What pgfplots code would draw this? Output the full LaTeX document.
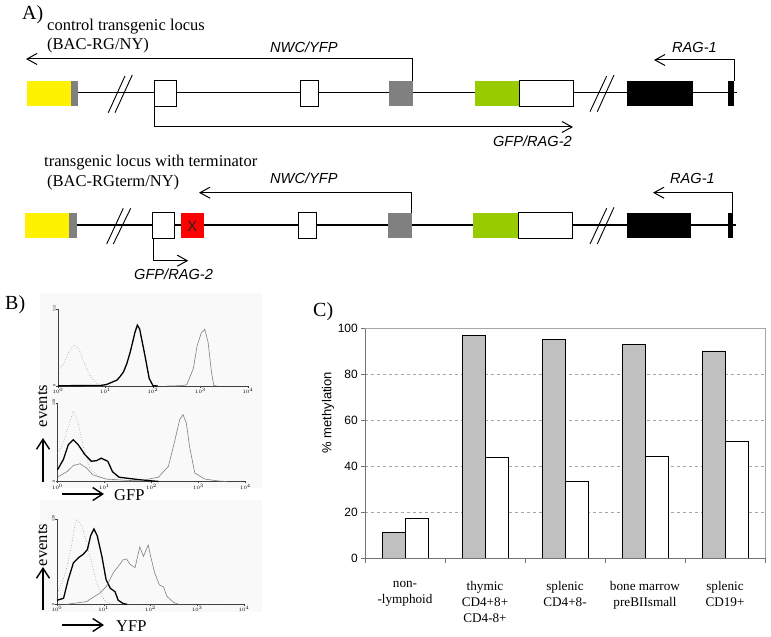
\documentclass[border=0pt]{standalone}
\usepackage{pgfplots}
\pgfplotsset{compat=1.18}
\usepackage{fontspec}
\setmainfont{Liberation Serif}
\setsansfont{Liberation Sans}
\usetikzlibrary{arrows.meta}
\definecolor{genegray}{HTML}{808080}
\definecolor{genegreen}{HTML}{99CC00}
\definecolor{barg}{HTML}{C0C0C0}
\newcommand\fA{\fontsize{16.5}{19}\selectfont}
\newcommand\fI{\sffamily\itshape\fontsize{14.6}{17}\selectfont}
\newcommand\fP{\fontsize{20}{24}\selectfont}
\tikzset{arr/.style={line width=1pt,-{Straight Barb[length=10pt,width=11pt,line width=1pt]}},
  bigarr/.style={line width=1.4pt,-{Straight Barb[length=10pt,width=13pt,line width=1.4pt]}}}
\pgfplotsset{histax/.style={scale only axis, anchor=south west, xmin=0, xmax=4, ymin=0,
  axis x line*=bottom, axis y line*=left,
  axis line style={line width=0.5pt, black!75},
  xtick={0,1,2,3,4}, xticklabels={$10^0$,$10^1$,$10^2$,$10^3$,$10^4$},
  minor xtick={0.301,0.477,0.602,0.699,0.778,0.845,0.903,0.954,1.301,1.477,1.602,1.699,1.778,1.845,1.903,1.954,2.301,2.477,2.602,2.699,2.778,2.845,2.903,2.954,3.301,3.477,3.602,3.699,3.778,3.845,3.903,3.954},
  tick align=outside, major tick length=1.6pt, minor tick length=1pt,
  tick style={line width=0.3pt, black!75},
  xticklabel style={font=\fontsize{4}{4}\selectfont, inner sep=0.5pt},
  yticklabel style={font=\fontsize{4}{4}\selectfont, rotate=90, anchor=south, inner sep=0.5pt},
  clip=false},
  dotsty/.style={black!45, dotted, line width=0.6pt},
  thinsty/.style={black!50, line width=0.6pt},
  thicksty/.style={black, line width=1.3pt}}
\begin{document}
\begin{tikzpicture}
\path[use as bounding box] (0pt,0pt) rectangle (771pt,637pt);
\begin{scope}[x=1pt,y=-1pt,shift={(0pt,637pt)}]
% backgrounds of histogram panels
\fill[gray!5] (40,293) rectangle (262,488);
\fill[gray!5] (40,500) rectangle (262,612);
% ---------------- Panel A, row 1
\node[anchor=base west, inner sep=0, font=\fP] at (22,20) {A)};
\node[anchor=base west, inner sep=0, font=\fA] at (47,31) {control transgenic locus};
\node[anchor=base west, inner sep=0, font=\fA] at (47,50) {(BAC-RG/NY)};
\draw[arr] (412.7,80.7) -- (412.7,59) -- (26,59);
\node[anchor=base west, inner sep=0, font=\fI] at (270,52.3) {NWC/YFP};
\draw[arr] (734,80.7) -- (734,60) -- (654,60);
\node[anchor=base west, inner sep=0, font=\fI] at (672,52.3) {RAG-1};
\draw[arr] (154.7,106) -- (154.7,127) -- (573,127);
\node[anchor=base east, inner sep=0, font=\fI] at (572,146.7) {GFP/RAG-2};
\draw[line width=1.3pt] (78,92.7) -- (737,92.7);
\draw[line width=0.9pt] (108.3,112.7) -- (125,76) (115,112.7) -- (132.3,75);
\draw[line width=0.9pt] (590,111.7) -- (606.7,76) (597.3,111.7) -- (614,75);
\fill[yellow] (26.7,80.7) rectangle (71,106);
\fill[genegray] (71,80.7) rectangle (78,106);
\filldraw[fill=white, draw=black, line width=0.8pt] (154,80.7) rectangle (176,106);
\filldraw[fill=white, draw=black, line width=0.8pt] (300,80.7) rectangle (318,106);
\fill[genegray] (389.3,80.7) rectangle (413.3,106);
\fill[genegreen] (475,80.7) rectangle (519.3,106);
\filldraw[fill=white, draw=black, line width=0.8pt] (519.3,80.7) rectangle (573.3,106);
\fill[black] (627,80.7) rectangle (692.7,106);
\fill[black] (728.3,80.7) rectangle (734,106);
% ---------------- Panel A, row 2
\node[anchor=base west, inner sep=0, font=\fA] at (44,166.7) {transgenic locus with terminator};
\node[anchor=base west, inner sep=0, font=\fA] at (47,187) {(BAC-RGterm/NY)};
\draw[arr] (411,212.7) -- (411,192.7) -- (199,192.7);
\node[anchor=base west, inner sep=0, font=\fI] at (270,183.3) {NWC/YFP};
\draw[arr] (732.5,212.7) -- (732.5,192.7) -- (653,192.7);
\node[anchor=base west, inner sep=0, font=\fI] at (670,183.3) {RAG-1};
\draw[arr] (153.3,238.3) -- (153.3,260.7) -- (188.3,260.7);
\node[anchor=base west, inner sep=0, font=\fI] at (134,279.3) {GFP/RAG-2};
\draw[line width=1.3pt] (76.7,225) -- (736,225);
\draw[line width=0.9pt] (106.7,244) -- (123.3,208.3) (113.3,244) -- (130.7,208.3);
\draw[line width=0.9pt] (590,244) -- (606.7,208.3) (597.3,244) -- (614,207.3);
\fill[yellow] (25,212.7) rectangle (69.3,238.3);
\fill[genegray] (69.3,212.7) rectangle (76.7,238.3);
\filldraw[fill=white, draw=black, line width=0.8pt] (152.7,212.7) rectangle (174.3,238.3);
\fill[red] (181,212.7) rectangle (204,238.3);
\node[font=\sffamily\fontsize{15}{17}\selectfont, text=black!85] at (192.5,226) {X};
\filldraw[fill=white, draw=black, line width=0.8pt] (298.3,212.7) rectangle (316,238.3);
\fill[genegray] (388.3,212.7) rectangle (411.7,238.3);
\fill[genegreen] (473.3,212.7) rectangle (518.3,238.3);
\filldraw[fill=white, draw=black, line width=0.8pt] (518.3,212.7) rectangle (572,238.3);
\fill[black] (627,212.7) rectangle (691,238.3);
\fill[black] (728,212.7) rectangle (733.3,238.3);
% ---------------- Panel B labels
\node[anchor=base west, inner sep=0, font=\fP] at (5,310) {B)};
\node[rotate=90, inner sep=0, font=\fA] at (42.5,406) {events};
\node[rotate=90, inner sep=0, font=\fA] at (42.5,545) {events};
\draw[bigarr] (43,482) -- (43,438);
\draw[bigarr] (43,610) -- (43,567);
\draw[bigarr] (62,494) -- (104,494);
\draw[bigarr] (62,625) -- (104,625);
\node[anchor=west, inner sep=0, font=\fA] at (114,495) {GFP};
\node[anchor=west, inner sep=0, font=\fA] at (116,626) {YFP};
% ---------------- Panel C labels
\node[anchor=base west, inner sep=0, font=\fP] at (313,316.7) {C)};
\node[rotate=90, inner sep=0, font=\sffamily\fontsize{13}{15}\selectfont] at (328,412.6) {\% methylation};
\end{scope}

% ---------------- Histogram 1 (GFP, control)
\begin{axis}[histax, at={(58pt,251pt)}, width=190pt, height=77pt, ymax=512,
  ytick={0,512}, yticklabels={0,512}]
\addplot[dotsty] coordinates {(0,105)(0.126,149)(0.23,225)(0.335,273)(0.44,247)(0.545,160)(0.685,61)(0.82,17)(1.0,3)(1.2,0)};
\addplot[thicksty] coordinates {(0,2)(0.9,3)(1.03,11)(1.24,39)(1.3,60)(1.38,94)(1.45,150)(1.52,225)(1.57,290)(1.62,356)(1.67,405)(1.72,378)(1.83,203)(1.92,50)(2.0,2)(2.1,0)};
\addplot[thinsty] coordinates {(2.3,0)(2.6,2)(2.71,8)(2.85,116)(2.93,269)(3.02,356)(3.06,365)(3.09,378)(3.16,291)(3.23,94)(3.28,3)(3.35,0)};
\end{axis}

% ---------------- Histogram 2 (GFP, terminator)
\begin{axis}[histax, at={(57.5pt,155.5pt)}, width=188pt, height=78.5pt, ymax=128,
  ytick={0,128}, yticklabels={0,128}]
\addplot[dotsty] coordinates {(0,46)(0.126,63)(0.23,90)(0.335,115)(0.44,96)(0.545,57)(0.685,22)(0.89,7)(1.24,1)(1.6,0)};
\addplot[thicksty] coordinates {(0,19)(0.126,36)(0.23,60)(0.335,68)(0.44,60)(0.58,44)(0.72,33)(0.83,34)(0.93,38)(1.07,33)(1.17,16)(1.31,7)(1.73,3)(2.15,0)};
\addplot[thinsty] coordinates {(0,7)(0.2,16)(0.335,26)(0.48,29)(0.62,22)(0.75,11)(1.03,4)(1.45,2)(1.73,1)(2.15,7)(2.36,25)(2.5,68)(2.6,101)(2.67,109)(2.74,96)(2.81,57)(2.92,14)(3.13,4)(3.41,1)(3.6,0)};
\end{axis}

% ---------------- Histogram 3 (YFP)
\begin{axis}[histax, at={(57pt,32.7pt)}, width=187pt, height=85.3pt, ymax=128,
  ytick={0,128}, yticklabels={0,128}]
\addplot[dotsty] coordinates {(0,17)(0.09,29)(0.2,52)(0.31,88)(0.38,118)(0.43,128)(0.53,118)(0.63,93)(0.74,62)(0.85,32)(0.96,12)(1.06,3)(1.2,0)};
\addplot[thicksty] coordinates {(0,6)(0.14,9)(0.24,37)(0.35,62)(0.46,70)(0.56,75)(0.65,82)(0.72,103)(0.79,113)(0.86,103)(0.96,72)(1.05,37)(1.14,24)(1.24,19)(1.31,6)(1.42,1)(1.5,0)};
\addplot[thinsty] coordinates {(0.2,0)(0.63,4)(0.92,17)(1.06,27)(1.2,47)(1.31,57)(1.42,67)(1.49,68)(1.56,60)(1.67,55)(1.77,86)(1.85,72)(1.95,89)(2.02,67)(2.09,47)(2.19,29)(2.28,26)(2.35,12)(2.49,3)(2.6,0)};
\end{axis}

% ---------------- Panel C bar chart
\begin{axis}[at={(365pt,79pt)}, anchor=south west, scale only axis, width=400pt, height=230pt,
  xmin=0.5, xmax=5.5, ymin=0, ymax=100,
  ybar, bar width=0.2875,
  axis x line*=bottom, axis y line*=left,
  axis line style={black!55, line width=0.8pt},
  xtick={1,2,3,4,5},
  xticklabels={{non-\\-lymphoid},{thymic\\CD4+8+\\CD4-8+},{splenic\\CD4+8-},{bone marrow\\preBIIsmall},{splenic\\CD19+}},
  major x tick style={draw=none},
  minor xtick={0.5,1.5,2.5,3.5,4.5,5.5},
  minor x tick style={black!55, line width=0.8pt},
  minor tick length=5pt,
  ytick={0,20,40,60,80,100},
  major tick length=4pt,
  y tick style={black!55, line width=0.8pt},
  tick align=outside,
  ymajorgrids, grid style={dashed, black!35, line width=0.6pt},
  xticklabel style={font=\fontsize{13.2}{16}\selectfont, align=center, anchor=north, inner sep=0pt, yshift=-19pt},
  yticklabel style={font=\sffamily\fontsize{12}{14}\selectfont, inner sep=0pt, xshift=-3pt},
  /pgf/number format/assume math mode=true,
  after end axis/.code={\draw[black!35, line width=0.8pt] (rel axis cs:0,1) -- (rel axis cs:1,1) -- (rel axis cs:1,0);}]
\addplot[fill=barg, draw=black, line width=0.8pt, bar shift=-0.14375] coordinates {(1,11.3)(2,96.7)(3,95.2)(4,93.0)(5,90.0)};
\addplot[fill=white, draw=black, line width=0.8pt, bar shift=0.14375] coordinates {(1,17.2)(2,43.8)(3,33.5)(4,44.3)(5,50.9)};
\end{axis}
\end{tikzpicture}
\end{document}
